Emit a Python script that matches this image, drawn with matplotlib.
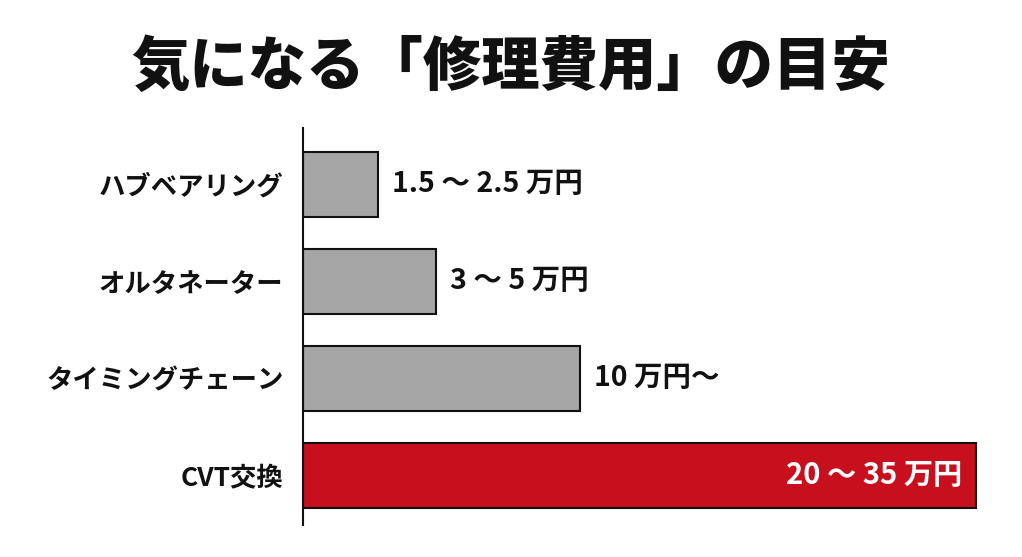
import matplotlib
matplotlib.use('Agg')
import matplotlib.pyplot as plt

plt.rcParams['font.family'] = ['Noto Sans CJK JP', 'DejaVu Sans']

# Data (bar lengths in 万円, scaled from the picture)
categories = ['ハブベアリング', 'オルタネーター', 'タイミングチェーン', 'CVT交換']
bar_lengths = [2.7, 4.8, 10.0, 24.3]
value_labels = ['1.5 ～ 2.5 万円', '3 ～ 5 万円', '10 万円～', '20 ～ 35 万円']
bar_colors = ['#a5a5a5', '#a5a5a5', '#a5a5a5', '#c80f1e']

fig = plt.figure(figsize=(10.22, 5.57), dpi=100)
ax = fig.add_axes([303 / 1022, 32 / 557, 700 / 1022, 397 / 557])

positions = list(range(len(categories)))
ax.barh(positions, bar_lengths, height=0.67, color=bar_colors,
        edgecolor='#111111', linewidth=1.5, zorder=2)

ax.set_xlim(0, 25.27)
ax.set_ylim(3.51, -0.58)

# Value labels: outside for gray bars, inside (white) for the last one
for pos, length, label in zip(positions, bar_lengths, value_labels):
    if pos == len(categories) - 1:
        ax.text(length - 0.5, pos, label, ha='right', va='center',
                fontsize=21, fontweight='bold', color='white')
    else:
        ax.text(length + 0.5, pos, label, ha='left', va='center',
                fontsize=20.5, fontweight='bold', color='#111111')

ax.set_yticks(positions)
ax.set_yticklabels(categories, fontsize=19, fontweight='bold', color='#111111')
ax.tick_params(axis='y', length=0, pad=14)
ax.set_xticks([])

for side in ['top', 'right', 'bottom']:
    ax.spines[side].set_visible(False)
ax.spines['left'].set_linewidth(1.5)
ax.spines['left'].set_color('#111111')

fig.text(0.5, 0.878, '気になる「修理費用」の目安', ha='center', va='center',
         fontsize=42, fontweight='heavy', color='#111111')

plt.savefig('out.png', dpi=100)
plt.close('all')
